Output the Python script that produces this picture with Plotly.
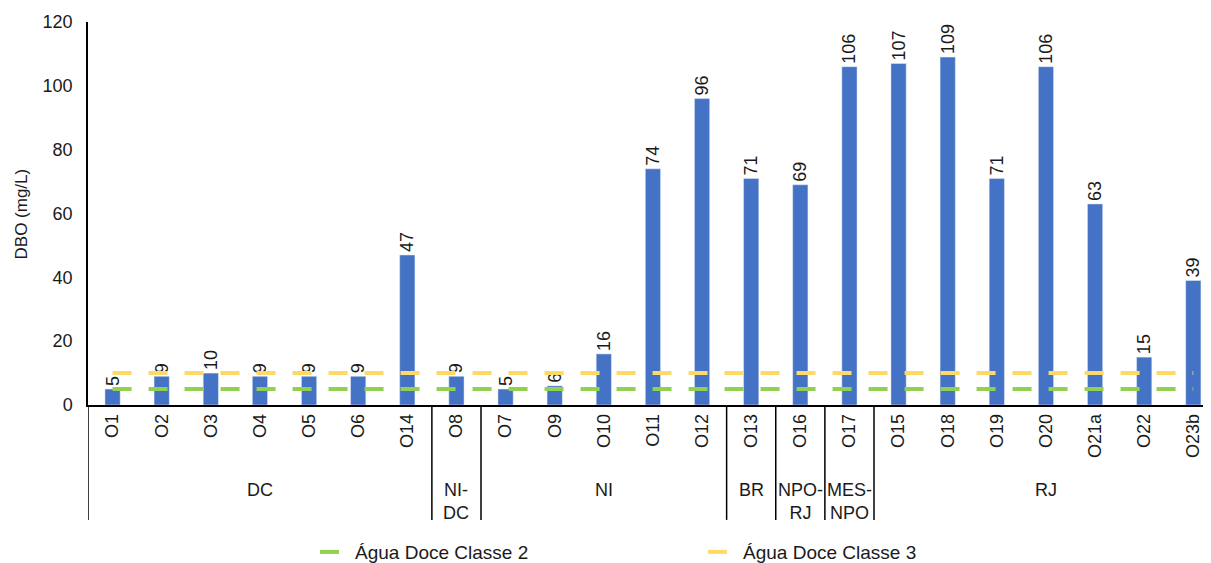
import plotly.graph_objects as go

categories = ["O1", "O2", "O3", "O4", "O5", "O6", "O14", "O8", "O7", "O9", "O10", "O11", "O12",
              "O13", "O16", "O17", "O15", "O18", "O19", "O20", "O21a", "O22", "O23b"]
dbo = [5, 9, 10, 9, 9, 9, 47, 9, 5, 6, 16, 74, 96, 71, 69, 106, 107, 109, 71, 106, 63, 15, 39]
group_names = ["DC", "NI-<br>DC", "NI", "BR", "NPO-<br>RJ", "MES-<br>NPO", "RJ"]
group_sizes = [7, 1, 5, 1, 1, 1, 7]
classe2 = 5
classe3 = 10

FONT = "Liberation Sans, Arial, sans-serif"
TXT = "#1a1a1a"
fig = go.Figure()
fig.add_trace(go.Bar(
    x=categories, y=dbo, marker_color="#4472C4", showlegend=False,
    text=[str(v) for v in dbo], textposition="outside", textangle=-90,
    constraintext="none",
    textfont=dict(family=FONT, size=18, color=TXT), cliponaxis=False,
))
fig.add_trace(go.Scatter(
    x=categories, y=[classe2] * len(categories), mode="lines", name="Água Doce Classe 2",
    line=dict(color="#92D050", width=4, dash="19px,17px"),
))
fig.add_trace(go.Scatter(
    x=categories, y=[classe3] * len(categories), mode="lines", name="Água Doce Classe 3",
    line=dict(color="#FFD966", width=4, dash="19px,17px"),
))

# group separators and labels
shapes = []
annotations = []
start = 0
bounds = [-0.5]
for name, size in zip(group_names, group_sizes):
    end = start + size
    bounds.append(end - 0.5)
    annotations.append(dict(x=(start + end - 1) / 2, y=-0.19, xref="x", yref="paper",
                            text=name, showarrow=False, yanchor="top",
                            font=dict(family=FONT, size=18, color=TXT)))
    start = end
for b in bounds[:-1]:
    shapes.append(dict(type="line", xref="x", yref="paper", x0=b, x1=b, y0=0, y1=-0.30,
                       line=dict(color="black", width=1.5)))

annotations.append(dict(x=-0.0588, y=0.5, xref="paper", yref="paper", text="DBO (mg/L)",
                        textangle=-90, showarrow=False, xanchor="center", yanchor="middle",
                        font=dict(family=FONT, size=17, color=TXT)))

fig.update_layout(
    width=1203, height=555,
    margin=dict(l=80, r=0, t=14, b=158, autoexpand=False),
    plot_bgcolor="white", paper_bgcolor="white",
    font=dict(family=FONT, size=18, color=TXT),
    bargap=0.69,
    shapes=shapes, annotations=annotations,
    legend=dict(orientation="h", xref="container", yref="container",
                x=0.2552, xanchor="left", y=0.054, yanchor="top",
                entrywidth=343, font=dict(family=FONT, size=19, color=TXT)),
    xaxis=dict(type="category", tickangle=-90, showline=True, linecolor="black", linewidth=1.5,
               ticks="", tickfont=dict(family=FONT, size=18, color=TXT), range=[-0.5, 22.36],
               automargin=False),
    yaxis=dict(range=[0, 120], dtick=20, showgrid=False, showline=True, linecolor="black",
               linewidth=1.5, ticks="", zeroline=False, automargin=False, ticklabelstandoff=10,
               tickfont=dict(family=FONT, size=18, color=TXT)),
)
fig.write_html("out.html")
